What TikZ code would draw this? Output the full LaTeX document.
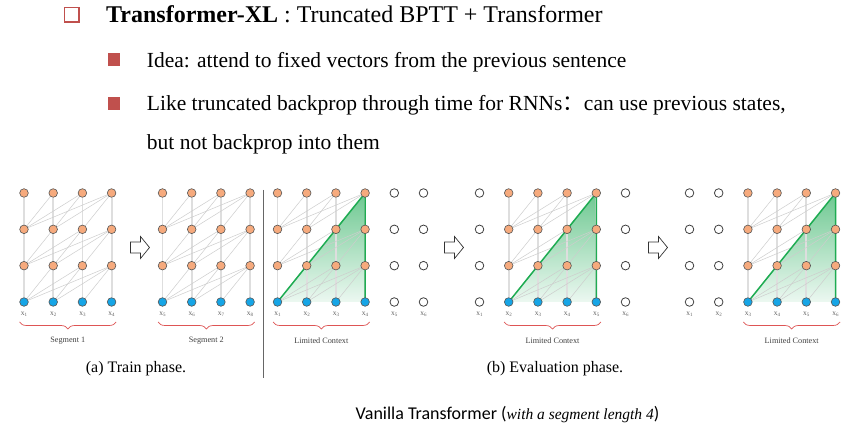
\documentclass[tikz,border=0pt]{standalone}
\usepackage{fontspec}
\setmainfont{Liberation Serif}
\newfontfamily\cjk{Noto Sans CJK SC}
\newfontfamily\calibri{Carlito}
\usetikzlibrary{decorations.pathreplacing,calc}
\pgfdeclarelayer{bglayer}
\pgfdeclarelayer{shadelayer}
\pgfdeclarelayer{edgelayer}
\pgfsetlayers{bglayer,shadelayer,edgelayer,main}
\definecolor{bulletred}{RGB}{192,80,77}
\definecolor{orangefill}{RGB}{246,170,125}
\definecolor{bluefill}{RGB}{22,165,230}
\definecolor{nodeline}{RGB}{85,85,85}
\definecolor{vgray}{RGB}{222,222,222}
\definecolor{dgray}{RGB}{205,205,205}
\definecolor{gline}{RGB}{30,172,82}
\definecolor{gtop}{RGB}{110,200,145}
\definecolor{gbot}{RGB}{236,248,241}
\definecolor{bracered}{RGB}{222,85,85}
\definecolor{labgray}{RGB}{100,100,100}
\tikzset{
  hid/.style={circle, draw=nodeline, fill=orangefill, line width=0.6bp, minimum size=8.6bp, inner sep=0pt},
  inp/.style={hid, fill=bluefill},
  emp/.style={hid, fill=white, draw=black!75, line width=0.8bp},
  vedge/.style={draw=vgray, line width=1.8bp},
  dedge/.style={draw=dgray, line width=0.5bp},
  gedge/.style={draw=gline, line width=1.5bp, line join=round},
  bracest/.style={draw=bracered, line width=0.7bp, decorate, decoration={brace, mirror, amplitude=7bp}},
  xlab/.style={font=\fontsize{7.5bp}{8bp}\selectfont, text=labgray, inner sep=0pt},
  seglab/.style={font=\fontsize{8.2bp}{9bp}\selectfont, text=black!75, inner sep=0pt},
  caption/.style={font=\fontsize{16bp}{19bp}\selectfont, inner sep=0pt, anchor=base},
  barrow/.style={draw=black!80, line width=0.7bp, fill=white, line join=miter},
  txt/.style={anchor=base west, inner sep=0pt, font=\fontsize{21.5bp}{26bp}\selectfont},
}
% #1 name, #2 x0, #3 ncols, #4 segment start, #5 label offset, #6 segment text, #7 triangle (1/0)
\newcommand\mypanel[7]{%
  \pgfmathtruncatemacro\segend{#4+3}%
  \foreach \i in {1,...,#3}{%
    \pgfmathsetmacro\xx{#2+(\i-1)*29.2}%
    \pgfmathtruncatemacro\lab{\i+#5}%
    \pgfmathtruncatemacro\inseg{((\i>=#4)&&(\i<=#4+3))?1:0}%
    \foreach \r in {0,...,3}{%
      \pgfmathsetmacro\yy{302-\r*36.33}%
      \ifnum\inseg=1
        \ifnum\r=0
          \node[inp] (#1-\i-\r) at (\xx,\yy) {};
        \else
          \node[hid] (#1-\i-\r) at (\xx,\yy) {};
        \fi
      \else
        \node[emp] (#1-\i-\r) at (\xx,\yy) {};
      \fi
    }
    \node[xlab] (#1-lab-\i) at (\xx,314) {x{\fontsize{5bp}{6bp}\selectfont\raisebox{-1.3bp}{\lab}}};
  }
  \begin{pgfonlayer}{edgelayer}
  \foreach \i in {#4,...,\segend}{%
    \foreach \r in {1,2,3}{%
      \pgfmathtruncatemacro\rprev{\r-1}%
      \draw[vedge] (#1-\i-\rprev) -- (#1-\i-\r);
      \foreach \j in {#4,...,\i}{%
        \ifnum\j<\i
          \draw[dedge] (#1-\j-\rprev) -- (#1-\i-\r);
        \fi
      }
    }
  }
  \ifnum#7=1
    \draw[gedge] (#1-#4-0.center) -- (#1-\segend-3.center) -- (#1-\segend-0.center);
  \fi
  \end{pgfonlayer}
  \ifnum#7=1
    \begin{pgfonlayer}{shadelayer}
    \shade[top color=gtop, bottom color=gbot] (#1-#4-0.center) -- (#1-\segend-3.center) -- (#1-\segend-0.center) -- cycle;
    \end{pgfonlayer}
  \fi
  \draw[bracest] ([xshift=-4.5bp,yshift=-20bp]#1-#4-0.center) -- ([xshift=4.5bp,yshift=-20bp]#1-\segend-0.center);
  \node[seglab] (#1-seg) at ($(#1-#4-0.center)!0.5!(#1-\segend-0.center)+(0,38.5)$) {#6};
}
\newcommand\blockarrow[2]{%
  \draw[barrow] (#2,242) -- ({#2+10},242) -- ({#2+10},236.5) -- ({#2+19},247.5) -- ({#2+10},258.5) -- ({#2+10},253) -- (#2,253) -- cycle;
}
\begin{document}
\begin{tikzpicture}[x=1bp,y=-1bp]
\useasboundingbox (0,0) rectangle (851,435);
\begin{pgfonlayer}{bglayer}
\fill[white] (0,0) rectangle (851,435);
\end{pgfonlayer}
% bullets and text
\draw[bulletred, line width=1.8bp] (64.5,7.5) rectangle (79,22);
\fill[bulletred] (107.5,53.5) rectangle (120,65.7);
\fill[bulletred] (107.5,97.5) rectangle (120,109.7);
\node[anchor=base west, inner sep=0pt, font=\fontsize{24bp}{28bp}\selectfont] (title) at (106,22.7) {\textbf{Transformer-XL} : Truncated BPTT + Transformer};
\node[txt] (l1) at (146.7,67.5) {Idea: attend to fixed vectors from the previous sentence};
\node[txt] (l2) at (146.7,111) {Like truncated backprop through time for RNNs{\cjk ：}can use previous states,};
\node[txt] (l3) at (146.7,150) {but not backprop into them};
% panels
\mypanel{pa}{24}{4}{1}{0}{Segment 1}{0}
\mypanel{pb}{162.5}{4}{1}{4}{Segment 2}{0}
\mypanel{pc}{277.5}{6}{1}{0}{Limited Context}{1}
\mypanel{pd}{479.5}{6}{2}{0}{Limited Context}{1}
\mypanel{pe}{689.5}{6}{3}{0}{Limited Context}{1}
\blockarrow{a1}{130.5}
\blockarrow{a2}{444.5}
\blockarrow{a3}{648.5}
\coordinate (septop) at (263.5,190);
\coordinate (sepbot) at (263.5,378);
\draw[black!60, line width=1.2bp] (septop) -- (sepbot);
\node[caption] (capa) at (136,373) {(a) Train phase.};
\node[caption] (capb) at (555,373) {(b) Evaluation phase.};
\node[anchor=base west, inner sep=0pt] (bottom) at (355.5,419) {{\calibri\fontsize{18bp}{21bp}\selectfont Vanilla Transformer (}{\fontsize{15.5bp}{19bp}\selectfont\itshape with a segment length 4}{\calibri\fontsize{18bp}{21bp}\selectfont )}};
\end{tikzpicture}
\end{document}
